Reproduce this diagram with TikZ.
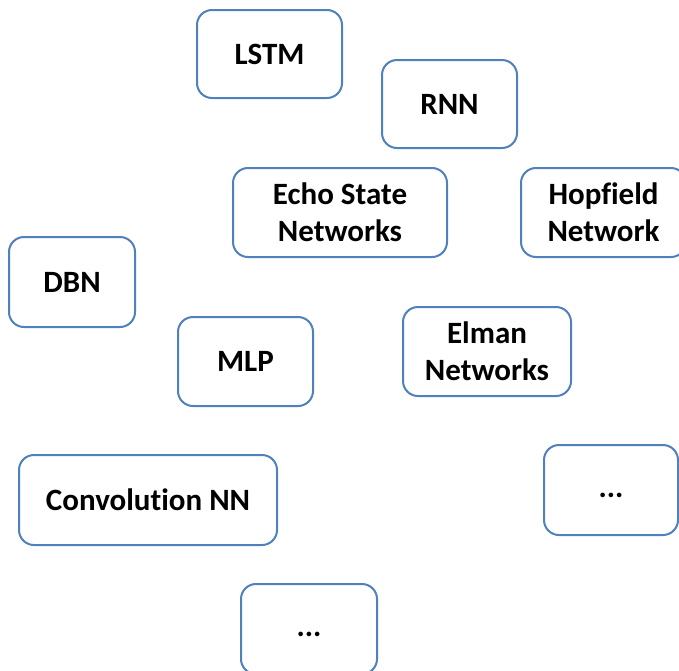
\documentclass[tikz,border=0pt]{standalone}
\usepackage{fontspec}
\setmainfont{Carlito}[Ligatures={NoCommon}]
\definecolor{boxblue}{HTML}{4F81BD}
\tikzset{
  netbox/.style={draw=boxblue, line width=2pt, fill=white, rounded corners=15pt,
    inner sep=0pt, outer sep=0pt, align=center,
    font=\fontsize{31}{37}\selectfont\bfseries},
}
\begin{document}
\begin{tikzpicture}[x=1pt,y=-1pt]
\useasboundingbox (0,0) rectangle (679,670);
\clip (0,0) rectangle (679,670);
\fill[white] (0,0) rectangle (679,670);
% boxes given by corner-to-corner extents
\newcommand{\netnode}[6]{%
  \node[netbox, minimum width={#4-#2}, minimum height={#5-#3}] (#1)
    at ({(#2+#4)/2},{(#3+#5)/2}) {#6};}
\netnode{lstm}{197}{10}{342}{98}{LSTM}
\netnode{rnn}{382}{60}{517}{148}{RNN}
\netnode{esn}{233}{168}{447}{257}{Echo State\\Networks}
\netnode{hop}{521}{168}{686}{257}{Hopfield\\Network}
\netnode{dbn}{9}{237}{135}{327}{DBN}
\netnode{mlp}{178}{317}{313}{406}{MLP}
\netnode{elman}{403}{307}{571}{396}{Elman\\Networks}
\netnode{cnn}{19}{455}{277}{545}{Convolution NN}
\netnode{etcright}{544}{445}{678}{535}{\vphantom{x}...}
\netnode{etcbottom}{241}{584}{377}{674}{\vphantom{x}...}
\end{tikzpicture}
\end{document}
